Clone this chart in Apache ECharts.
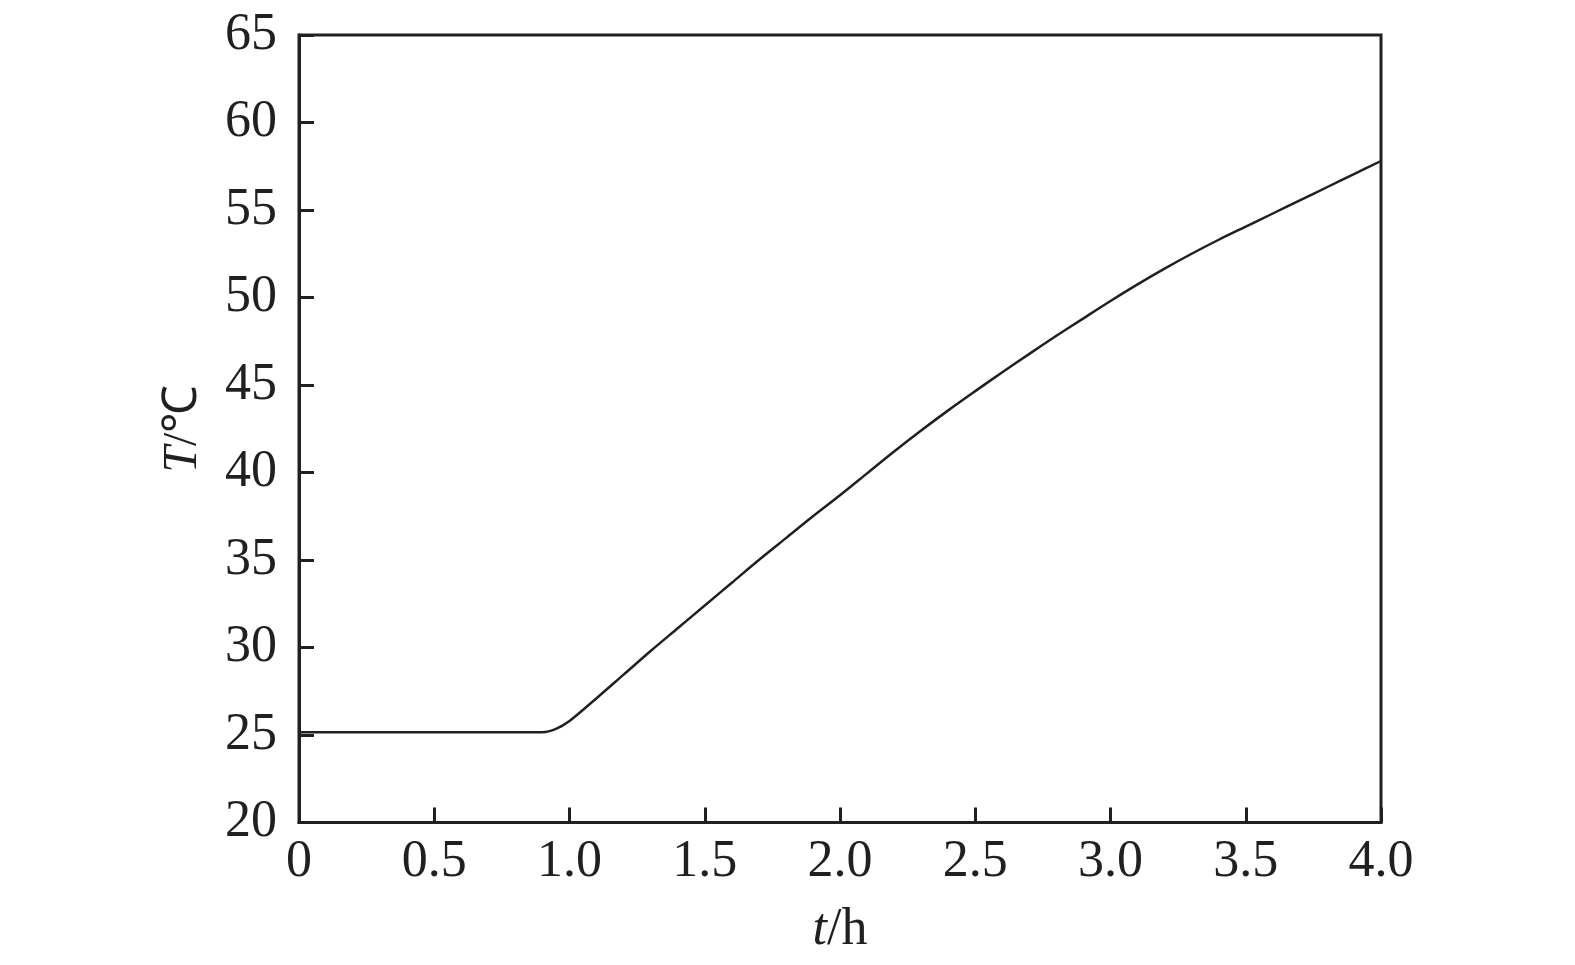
<!DOCTYPE html>
<html>
<head>
<meta charset="utf-8">
<script src="https://cdn.jsdelivr.net/npm/echarts@6/dist/echarts.min.js"></script>
<style>
html,body{margin:0;padding:0;background:#fff;}
#chart{width:1575px;height:965px;}
</style>
</head>
<body>
<div id="chart"></div>
<script>
// Data
const timeH = [0, 0.1, 0.2, 0.3, 0.4, 0.5, 0.6, 0.7, 0.8, 0.9, 0.95, 1.0, 1.1, 1.2, 1.3, 1.4, 1.5, 1.6, 1.7, 1.8, 1.9, 2.0, 2.1, 2.2, 2.3, 2.4, 2.5, 2.6, 2.7, 2.8, 2.9, 3.0, 3.1, 3.2, 3.3, 3.4, 3.5, 3.6, 3.7, 3.8, 3.9, 4.0];
const tempC = [25.16, 25.16, 25.16, 25.16, 25.16, 25.16, 25.16, 25.16, 25.16, 25.16, 25.35, 25.8, 27.1, 28.45, 29.8, 31.1, 32.4, 33.7, 35.0, 36.25, 37.5, 38.7, 39.95, 41.2, 42.4, 43.55, 44.65, 45.73, 46.78, 47.81, 48.81, 49.8, 50.75, 51.65, 52.5, 53.3, 54.05, 54.8, 55.55, 56.3, 57.05, 57.8];
const xTickLabels = ['0', '0.5', '1.0', '1.5', '2.0', '2.5', '3.0', '3.5', '4.0'];
const yTickLabels = ['20', '25', '30', '35', '40', '45', '50', '55', '60', '65'];

const ink = '#231f20';
const serif = 'Liberation Serif';

const chart = echarts.init(document.getElementById('chart'));
chart.setOption({
  animation: false,
  backgroundColor: '#fff',
  grid: {
    left: 299, right: 194, top: 35, bottom: 142.5,
    show: true, borderColor: ink, borderWidth: 3, backgroundColor: 'transparent'
  },
  xAxis: {
    type: 'value', min: 0, max: 4, interval: 0.5,
    name: '{i|t}/h', nameLocation: 'middle', nameGap: 82,
    nameTextStyle: {
      fontFamily: serif, fontSize: 52, color: ink,
      rich: { i: { fontFamily: serif, fontSize: 52, fontStyle: 'italic', color: ink } }
    },
    axisLine: { show: true, onZero: false, lineStyle: { color: ink, width: 3 } },
    axisTick: { show: true, inside: true, length: 15, lineStyle: { color: ink, width: 3 } },
    axisLabel: {
      fontFamily: serif, fontSize: 52, color: ink, margin: 14,
      formatter: (v) => xTickLabels[Math.round(v / 0.5)]
    },
    splitLine: { show: false }
  },
  yAxis: {
    type: 'value', min: 20, max: 65, interval: 5,
    name: '{i|T}/℃', nameLocation: 'middle', nameGap: 92, nameRotate: 90,
    nameTextStyle: {
      fontFamily: serif, fontSize: 48, color: ink,
      rich: { i: { fontFamily: serif, fontSize: 48, fontStyle: 'italic', color: ink } }
    },
    axisLine: { show: true, onZero: false, lineStyle: { color: ink, width: 3 } },
    axisTick: { show: true, inside: true, length: 15, lineStyle: { color: ink, width: 3 } },
    axisLabel: {
      fontFamily: serif, fontSize: 52, color: ink, margin: 22,
      formatter: (v) => yTickLabels[Math.round((v - 20) / 5)]
    },
    splitLine: { show: false }
  },
  series: [{
    type: 'line',
    data: timeH.map((t, i) => [t, tempC[i]]),
    showSymbol: false,
    symbol: 'none',
    smooth: 0.3,
    lineStyle: { color: ink, width: 2.5 }
  }]
});
</script>
</body>
</html>
